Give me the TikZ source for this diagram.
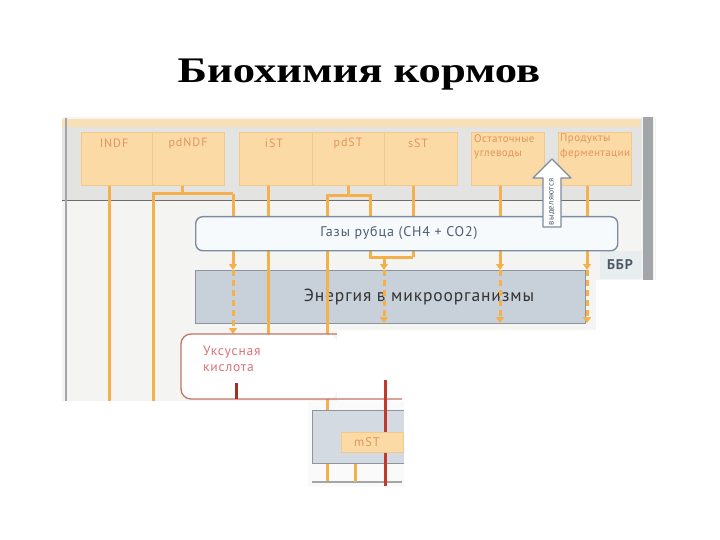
\documentclass[tikz,border=0pt]{standalone}
\usepackage{fontspec}
\setmainfont{PT Sans}
\newfontfamily\titlefont{Liberation Serif}
\usetikzlibrary{arrows.meta}
\definecolor{orln}{HTML}{F4B04A}
\definecolor{orfill}{HTML}{FBDAA6}
\definecolor{orbd}{HTML}{F1C88E}
\definecolor{ortext}{HTML}{E2955A}
\definecolor{band}{HTML}{E3E3E1}
\definecolor{bgp}{HTML}{F4F5F3}
\definecolor{peach}{HTML}{F8DFB5}
\definecolor{gasfill}{HTML}{F7FAFD}
\definecolor{gasdraw}{HTML}{7D8CA0}
\definecolor{gastext}{HTML}{4E5D70}
\definecolor{enfill}{HTML}{C8D1D9}
\definecolor{endraw}{HTML}{8C959D}
\definecolor{uksdraw}{HTML}{C47264}
\definecolor{ukstext}{HTML}{D9727A}
\definecolor{redln}{HTML}{C0392B}
\definecolor{greyln}{HTML}{A3A6A9}
\definecolor{bbrfill}{HTML}{E8EDF0}
\definecolor{bbrtext}{HTML}{4D5964}
\newcommand{\lsp}[1]{\addfontfeature{LetterSpace=#1}}
\tikzset{
  obox/.style={draw=orbd, fill=orfill, line width=0.6pt, minimum height=53pt, inner sep=0pt, anchor=north west},
  otext/.style={text=ortext, font=\fontsize{12}{14}\selectfont\lsp{8}, inner sep=0pt},
  otext2/.style={text=ortext, font=\fontsize{11}{14.5}\selectfont\lsp{4}, inner sep=0pt, align=left, anchor=north west},
  oline/.style={draw=orln, line width=3pt},
  oarr/.style={oline, -{Triangle[width=8pt,length=6pt]}},
  odash/.style={oarr, dash pattern=on 6pt off 4pt},
}
\begin{document}
\begin{tikzpicture}[x=1pt,y=-1pt]
\useasboundingbox (0,0) rectangle (720,540);
% title
\node[font=\titlefont\bfseries\fontsize{36}{40}\selectfont, anchor=base, inner sep=0pt] (title) at (359,83) {\scalebox{1.24}[1]{Биохимия кормов}};
% background patches
\fill[bgp] (62,117) rectangle (656,280);
\fill[bgp] (62,280) rectangle (596,330);
\fill[bgp] (62,330) rectangle (337,401);
\fill[white!96!gray] (308,401) rectangle (404,487);
\fill[band] (62,119) rectangle (642,200);
\fill[peach] (62,119) rectangle (640,127);
\draw[gray!85!black, line width=0.8pt] (62,200) -- (640,200);
\fill[greyln] (643,117) rectangle (653,280);
\fill[bbrfill] (600,251) rectangle (642,279);
\draw[greyln, line width=2.5pt] (66,118) -- (66,401);
% top boxes
\node[obox, minimum width=71pt] (indf) at (81,132) {};
\node[obox, minimum width=72pt] (pdndf) at (152,132) {};
\node[obox, minimum width=73pt] (ist) at (239,132) {};
\node[obox, minimum width=72pt] (pdst) at (312,132) {};
\node[obox, minimum width=73pt] (sst) at (384,132) {};
\node[obox, minimum width=73pt] (ost) at (471,132) {};
\node[obox, minimum width=73pt] (prod) at (558,132) {};
\node[otext] (tindf) at (114,143) {INDF};
\node[otext] (tpdndf) at (188,143) {pdNDF};
\node[otext] (tist) at (274,143) {iST};
\node[otext] (tpdst) at (348,143) {pdST};
\node[otext] (tsst) at (418,143) {sST};
\node[otext2] (tost) at (474,134) {Остаточные\\углеводы};
\node[otext2] (tprod) at (560,134) {Продукты\\ферментации};
% energy box
\node[draw=endraw, fill=enfill, line width=1pt, anchor=north west, minimum width=390pt, minimum height=53pt, inner sep=0pt] (en) at (195,270) {};
\node[font=\fontsize{17.5}{19}\selectfont\lsp{5}, text=black!80] (tenergy) at (419,297) {Энергия в микроорганизмы};
% coordinates
\coordinate (c109) at (109,401);
\coordinate (c153) at (153,401);
\coordinate (j1) at (182,194);
\coordinate (j1l) at (153,194);
\coordinate (j1r) at (233,194);
\coordinate (uk1) at (233,334);
\coordinate (c268) at (268,334);
\coordinate (j2) at (348,196);
\coordinate (j2l) at (327,196);
\coordinate (j2r) at (370,196);
\coordinate (j3) at (370,257);
\coordinate (j3m) at (384,257);
\coordinate (j3r) at (413,257);
\coordinate (c327) at (327,482);
\coordinate (c500) at (500,0);
\coordinate (c587) at (587,0);
% orange connectors
\draw[oline] (indf.south -| c109) -- (c109);
\draw[oline] (pdndf.south -| j1) -- (j1);
\draw[oline] (c153) -- (j1l) -- (j1r);
\draw[oarr] (j1r) -- (j1r |- en.north);
\draw[odash] (j1r |- en.north) -- (uk1);
\draw[oline] (ist.south -| c268) -- (c268);
\draw[oline] (pdst.south -| j2) -- (j2);
\draw[oline] (c327) -- (j2l) -- (j2r) -- (j3) -- (j3r);
\draw[oline] (sst.south -| j3r) -- (j3r);
\draw[oarr] (j3m) -- (j3m |- en.north);
\draw[odash] (j3m |- en.north) -- ([yshift=1pt]j3m |- en.south);
\draw[oarr] (ost.south -| c500) -- (c500 |- en.north);
\draw[odash] (c500 |- en.north) -- ([yshift=1pt]c500 |- en.south);
\draw[oarr] (prod.south -| c587) -- (c587 |- en.north);
\draw[odash] (c587 |- en.north) -- ([yshift=1pt]c587 |- en.south);
% gas box
\node[draw=gasdraw, fill=gasfill, line width=1.4pt, rounded corners=7pt, anchor=north west, minimum width=422pt, minimum height=34pt, inner sep=0pt] (gas) at (195,216) {};
\node[font=\fontsize{14}{16}\selectfont\lsp{6}, text=gastext] (tgas) at (399,233) {Газы рубца (CH4 + CO2)};
% BBR
\node[font=\bfseries\fontsize{14}{16}\selectfont\lsp{6}, text=bbrtext] (bbr) at (620,265) {ББР};
% up arrow
\draw[draw=gasdraw, fill=white, line width=1.2pt, line join=round] (543,227) -- (543,178) -- (533,178) -- (552,159) -- (571,178) -- (561,178) -- (561,227) -- cycle;
\node[rotate=90, font=\fontsize{8.5}{9}\selectfont\lsp{4}, text=gastext, inner sep=0pt] (tup) at (552,202) {выделяются};
% acetic acid box
\fill[white, rounded corners=10pt] (337,334) -- (181,334) -- (181,399) -- (337,399) -- cycle;
\draw[uksdraw, line width=1.3pt, rounded corners=10pt] (337,334) -- (181,334) -- (181,399) -- (402,399);
\node[text=ukstext, font=\fontsize{13.5}{15.5}\selectfont\lsp{6}, align=left, anchor=north west, inner sep=0pt] (uks) at (203,346) {Уксусная\\кислота};
% mST
\node[draw=endraw, fill=enfill!80!white, line width=0.8pt, anchor=north west, minimum width=92pt, minimum height=53pt, inner sep=0pt] (mstbg) at (312,410) {};
\draw[greyln, line width=2pt] (312,482) -- (402,482);
\coordinate (c355) at (355,482);
\draw[oline] (mstbg.south -| c355) -- (c355);
% red lines
\coordinate (r1) at (385,380);
\coordinate (r2) at (385,486);
\coordinate (r3) at (236,383);
\coordinate (r4) at (236,399);
\draw[redln, line width=3pt] (r1) -- (r2);
\draw[redln!85!black, line width=3pt] (r3) -- (r4);
\node[draw=orbd, fill=orfill, anchor=north west, minimum width=62pt, minimum height=20pt, inner sep=0pt] (mst) at (341,432) {};
\node[text=ortext, font=\fontsize{12.5}{14}\selectfont\lsp{8}, inner sep=0pt] (tmst) at (367,442) {mST};
\fill[white] (404,400) rectangle (420,490);
\end{tikzpicture}
\end{document}
